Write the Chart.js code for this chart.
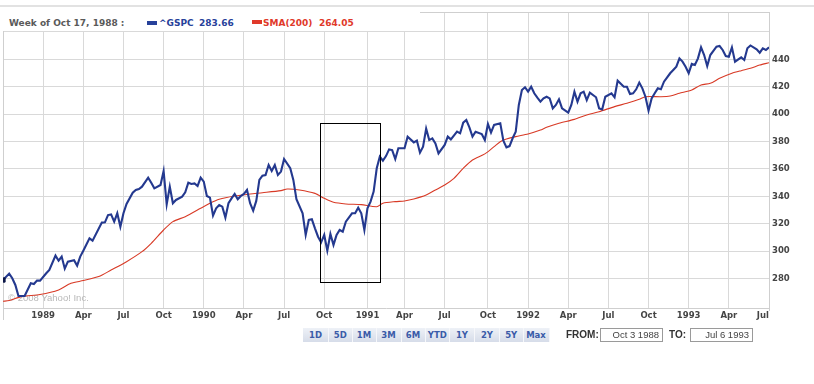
<!DOCTYPE html>
<html><head><meta charset="utf-8">
<script src="https://cdn.jsdelivr.net/npm/chart.js@4.4.1/dist/chart.umd.min.js"></script>
<style>
html,body{margin:0;padding:0;background:#fff;width:814px;height:384px;overflow:hidden;position:relative;font-family:"DejaVu Sans",sans-serif}
#c{position:absolute;left:0;top:0}
#topline{position:absolute;left:0;top:5px;width:814px;height:2px;background:#e2e2e2}
#hdr{position:absolute;left:0;top:7px;width:420px;height:24px;background:#fff}
.ht{position:absolute;top:10px;line-height:12px;font-size:9px;font-weight:bold;white-space:nowrap}
.mk{position:absolute;width:10px;height:4px}
#btns{position:absolute;left:303px;top:328px;height:14px;display:flex}
#btns div{height:14px;line-height:14px;text-align:center;font-size:8.5px;font-weight:bold;color:#3a5ba8;background:linear-gradient(#eef1f7,#d6dce9);border-right:1px solid #f6f7fa;box-sizing:border-box}
.lbl{position:absolute;top:328px;line-height:14px;font-family:"Liberation Sans",Arial,sans-serif;font-weight:bold;font-size:10px;color:#333}
.box{position:absolute;top:328px;height:14px;width:63px;box-sizing:border-box;border:1px solid #9a9a9a;line-height:12px;font-family:"Liberation Sans",Arial,sans-serif;font-size:9.5px;color:#444;text-align:right;padding-right:3px}
</style></head><body>
<canvas id="c" width="814" height="384"></canvas>
<div id="topline"></div>
<div id="hdr">
  <span class="ht" style="left:9px;color:#5a5a5a">Week of Oct 17, 1988 :</span>
  <div class="mk" style="left:147px;top:14px;background:#27419a"></div>
  <span class="ht" style="left:159px;color:#27419a">^GSPC</span>
  <span class="ht" style="left:199px;color:#27419a">283.66</span>
  <div class="mk" style="left:252px;top:13px;background:#e0392a"></div>
  <span class="ht" style="left:263px;color:#e0392a">SMA(200)</span>
  <span class="ht" style="left:319px;color:#e0392a">264.05</span>
</div>
<div id="btns">
  <div style="width:26px">1D</div><div style="width:23.5px">5D</div><div style="width:24px">1M</div><div style="width:25px">3M</div><div style="width:24px">6M</div><div style="width:24.5px">YTD</div><div style="width:25px">1Y</div><div style="width:25px">2Y</div><div style="width:23.5px">5Y</div><div style="width:26px">Max</div>
</div>
<span class="lbl" style="left:566px">FROM:</span>
<div class="box" style="left:600px">Oct 3 1988</div>
<span class="lbl" style="left:669px">TO:</span>
<div class="box" style="left:690px">Jul 6 1993</div>
<script>
// ---- data (x = week number counted from the first weekly bar) ----
const startDate = '1988-10-03';
const endWeek = 248;
const gspcWeeks = [0,2,3,4,5,7,9,10,11,12,14,15,17,18,19,20,21,23,24,25,26,28,29,32,33,34,35,36,37,38,39,40,42,43,44,45,47,48,49,51,52,53,54,55,56,58,59,60,61,62,63,64,65,66,67,68,69,70,71,72,73,74,75,76,77,78,79,80,81,82,83,84,85,86,87,88,89,90,91,93,94,95,97,98,99,100,101,102,103,104,105,106,107,108,109,110,111,113,114,115,116,117,118,119,120,121,122,123,124,125,126,127,128,130,131,133,134,135,136,137,138,139,140,141,143,144,145,147,148,149,150,151,152,153,155,156,157,158,159,161,162,163,164,165,166,167,168,169,170,171,172,173,174,175,176,177,178,179,180,181,183,184,185,186,187,188,189,190,192,193,194,195,197,198,199,201,202,203,204,205,206,207,208,209,210,211,212,213,214,216,217,218,219,220,221,222,223,224,225,226,227,228,229,231,232,233,234,235,236,237,239,240,241,242,244,245,246,247,248];
const gspcValues = [279.0,283.7,280.3,275.4,267.4,267.4,276.6,276.1,278.6,278.6,283.9,286.3,296.8,293.1,296.1,287.3,292.4,293.4,289.5,296.1,300.4,309.4,307.7,320.9,321.1,326.4,326.9,321.6,327.7,317.9,327.7,334.5,342.7,344.7,345.4,347.1,353.7,350.0,345.9,348.3,358.5,334.2,347.1,335.0,337.4,339.8,343.0,350.0,349.1,349.5,347.6,353.7,350.8,340.3,339.1,326.0,331.3,333.7,332.5,324.5,335.0,338.6,341.8,337.9,340.3,341.8,344.7,335.0,329.6,336.7,352.0,355.1,355.6,362.9,358.5,362.9,355.6,358.1,367.3,360.5,352.0,337.9,327.7,311.9,322.8,323.3,316.7,310.6,306.5,311.9,300.4,312.6,304.6,311.9,315.5,314.3,321.6,327.7,327.7,331.8,327.7,315.5,331.3,336.2,343.5,360.5,369.0,366.1,369.4,374.3,373.8,367.3,375.1,375.1,383.6,379.4,380.7,371.9,376.3,389.4,381.1,382.3,378.7,371.4,377.5,383.6,381.6,387.2,386.0,393.8,395.7,390.4,383.6,387.2,385.5,381.1,392.8,386.5,392.1,393.3,380.7,375.8,376.7,382.4,387.2,406.7,417.6,419.6,416.4,420.0,415.2,412.0,409.1,411.5,412.7,411.5,404.2,406.7,410.8,404.2,401.1,406.7,416.4,409.1,415.2,416.4,410.3,415.7,412.3,404.2,403.5,412.7,415.2,412.3,424.4,420.0,420.0,414.7,415.2,418.1,423.0,418.8,412.7,402.5,411.5,415.2,418.8,418.1,423.7,429.8,432.2,434.6,440.7,438.3,434.6,429.8,436.6,435.8,440.7,448.7,443.1,435.1,443.1,449.2,449.7,446.8,442.4,441.9,448.7,438.3,441.4,439.5,448.0,450.1,447.3,444.8,448.0,446.8,448.7];
const smaWeeks = [0,2,6,12,18,22,26,31,35,40,45,48,52,55,59,64,67,70,75,80,84,90,92,96,101,104,107,111,116,121,123,127,130,133,137,140,143,146,149,152,156,159,161,163,166,170,174,176,180,185,189,193,198,202,206,208,213,216,219,223,226,229,232,236,239,242,245,248];
const smaValues = [263.5,264.05,266.9,268.5,271.8,276.6,278.6,281.5,286.3,292.4,299.7,305.8,315.5,321.6,325.2,331.3,335.0,337.9,340.3,341.8,342.7,344.2,345.4,344.7,342.2,338.6,335.7,334.5,334.0,332.5,335.0,336.2,336.7,338.1,341.0,344.7,348.3,353.2,360.5,366.6,371.0,376.3,379.9,381.8,383.6,385.5,388.4,390.4,393.3,396.2,399.4,401.8,405.5,407.9,410.8,412.7,412.7,413.2,415.2,417.6,421.3,422.5,426.1,429.8,431.7,433.4,435.8,437.5];
// first entry is the range start (unlabelled), the rest are quarter starts
const tickDates = ['1988-10-03','1989-01-01','1989-04-01','1989-07-01','1989-10-01','1990-01-01','1990-04-01','1990-07-01','1990-10-01','1991-01-01','1991-04-01','1991-07-01','1991-10-01','1992-01-01','1992-04-01','1992-07-01','1992-10-01','1993-01-01','1993-04-01','1993-07-01'];
const tickLabels = ['','1989','Apr','Jul','Oct','1990','Apr','Jul','Oct','1991','Apr','Jul','Oct','1992','Apr','Jul','Oct','1993','Apr','Jul'];
const yTicks = [280,300,320,340,360,380,400,420,440,460];
const yMin = 258.6, yMax = 474.5;
const boxFrom = '1990-09-21', boxTo = '1991-02-04', boxLow = 277.5, boxHigh = 393.5;

const DAY = 86400000;
const t0 = Date.parse(startDate + 'T00:00:00Z');
const daysFrom = d => (Date.parse(d + 'T00:00:00Z') - t0) / DAY;
const tickWeeks = tickDates.map(d => Math.ceil(daysFrom(d) / 7));

const gspcData = gspcWeeks.map((w, i) => ({x: w, y: gspcValues[i]}));
const smaData = smaWeeks.map((w, i) => ({x: w, y: smaValues[i]}));

const GRID = '#d9d9d9';
const LABEL_FONT = {family: 'DejaVu Sans', size: 8.5, weight: 'bold'};

const decor = {
  id: 'decor',
  beforeDatasetsDraw(chart) {
    const {ctx, chartArea: a} = chart;
    ctx.save();
    ctx.strokeStyle = '#cfcfcf';
    ctx.lineWidth = 1;
    ctx.beginPath();
    ctx.moveTo(a.left + 0.5, a.top); ctx.lineTo(a.left + 0.5, a.bottom + 12);
    ctx.moveTo(a.left, a.top + 0.5); ctx.lineTo(a.right, a.top + 0.5);
    ctx.moveTo(a.right + 0.5, a.bottom); ctx.lineTo(a.right + 0.5, a.bottom + 3);
    ctx.stroke();
    ctx.fillStyle = '#b8b8b8';
    ctx.font = '9.5px "Liberation Sans", Arial, sans-serif';
    ctx.textBaseline = 'middle';
    ctx.fillText('\u00a9 2008 Yahoo! Inc.', a.left + 5, a.bottom - 10);
    ctx.restore();
  },
  afterDatasetsDraw(chart) {
    const {ctx, scales: {x, y}} = chart;
    const x1 = Math.round(x.getPixelForValue(daysFrom(boxFrom) / 7)) + 0.5;
    const x2 = Math.round(x.getPixelForValue(daysFrom(boxTo) / 7)) + 0.5;
    const y1 = Math.round(y.getPixelForValue(boxHigh)) + 0.5;
    const y2 = Math.round(y.getPixelForValue(boxLow)) + 0.5;
    ctx.save();
    ctx.strokeStyle = '#000';
    ctx.lineWidth = 1;
    ctx.strokeRect(x1, y1, x2 - x1, y2 - y1);
    ctx.restore();
  }
};

new Chart(document.getElementById('c'), {
  type: 'line',
  data: {
    datasets: [
      {label: '^GSPC', data: gspcData, borderColor: '#24398f', borderWidth: 2.1, tension: 0,
       pointRadius: ctx => ctx.dataIndex === 0 ? 3 : 0, pointStyle: 'rect',
       pointBackgroundColor: '#0c1748', pointBorderColor: '#0c1748', pointBorderWidth: 1},
      {label: 'SMA(200)', data: smaData, borderColor: '#d83a26', borderWidth: 1.1, tension: 0.25, pointRadius: 0}
    ]
  },
  options: {
    responsive: false,
    animation: false,
    devicePixelRatio: 1,
    layout: {autoPadding: false, padding: {left: 2, top: 12, right: 0, bottom: 0}},
    plugins: {legend: {display: false}, tooltip: {enabled: false}},
    scales: {
      x: {
        type: 'linear', min: 0, max: endWeek,
        afterBuildTicks: s => { s.ticks = tickWeeks.map(v => ({value: v})); },
        afterFit: s => { s.height = 76; },
        grid: {color: GRID, drawTicks: false},
        border: {color: '#cfcfcf'},
        ticks: {autoSkip: false, maxRotation: 0, padding: 3, align: 'inner', color: '#444', font: LABEL_FONT,
                callback: (v, i) => tickLabels[i]}
      },
      y: {
        type: 'linear', position: 'right', min: yMin, max: yMax,
        afterBuildTicks: s => { s.ticks = yTicks.map(v => ({value: v})); },
        afterFit: s => { s.width = 45; },
        grid: {color: GRID, drawTicks: false},
        border: {color: '#cfcfcf'},
        ticks: {padding: 3, color: '#444', font: LABEL_FONT,
                callback: v => v === 460 ? '' : String(v)}
      }
    }
  },
  plugins: [decor]
});
</script>
</body></html>
